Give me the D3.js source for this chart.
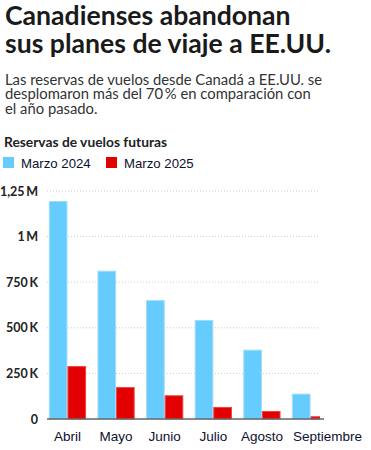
<!DOCTYPE html>
<html>
<head>
<meta charset="utf-8">
<script src="https://cdn.jsdelivr.net/npm/d3@7"></script>
<style>
  body { margin: 0; background: #fff; }
</style>
</head>
<body>
<div id="chart"></div>
<script>
// data
var months = ["Abril", "Mayo", "Junio", "Julio", "Agosto", "Septiembre"];
var series = ["Marzo 2024", "Marzo 2025"];
var marzo2024 = [1195000, 813000, 652000, 543000, 380000, 139000];
var marzo2025 = [290000, 175000, 130000, 66000, 44000, 15000];
var yTicks = [0, 250000, 500000, 750000, 1000000, 1250000];
var yTickLabels = ["0", "250\u2009K", "500\u2009K", "750\u2009K", "1\u2009M", "1,25\u2009M"];

var colors = ["#66ccfe", "#e30000"];
var edge = ["#9adcff", "#f04040"];
var width = 371, height = 450;

var svg = d3.select("#chart")
  .append("svg")
  .attr("width", width)
  .attr("height", height);

// title + subtitle
var title = svg.append("g")
  .attr("font-family", "Lato")
  .attr("font-weight", "bold")
  .attr("font-size", 26.6)
  .attr("fill", "#1a1a1a");
title.append("text").attr("x", 5).attr("y", 25).text("Canadienses abandonan");
title.append("text").attr("x", 5).attr("y", 53).text("sus planes de viaje a EE.UU.");

var sub = svg.append("g")
  .attr("font-family", "Lato")
  .attr("font-size", 14.8)
  .attr("fill", "#333");
["Las reservas de vuelos desde Canadá a EE.UU. se",
 "desplomaron más del 70\u2009% en comparación con",
 "el año pasado."].forEach(function (t, i) {
  sub.append("text").attr("x", 5).attr("y", 85 + i * 14.3).text(t);
});

// legend
svg.append("text")
  .attr("x", 4).attr("y", 147)
  .attr("font-family", "Lato")
  .attr("font-weight", "bold")
  .attr("font-size", 13.8)
  .attr("fill", "#222")
  .text("Reservas de vuelos futuras");

var legendX = [3, 106];
var legend = svg.selectAll("g.legend")
  .data(series)
  .join("g")
  .attr("class", "legend")
  .attr("transform", function (d, i) { return "translate(" + legendX[i] + ",157)"; });
legend.append("rect")
  .attr("width", 11).attr("height", 11)
  .attr("fill", function (d, i) { return colors[i]; });
legend.append("text")
  .attr("x", 18).attr("y", 10.5)
  .attr("font-family", "Liberation Sans")
  .attr("font-size", 13.2)
  .attr("fill", "#0d1030")
  .text(function (d) { return d; });

// scales
var x = d3.scaleBand()
  .domain(months)
  .range([44, 334])
  .paddingInner(0.235)
  .paddingOuter(0.1);
var xs = d3.scaleBand()
  .domain(series)
  .range([0, x.bandwidth()]);
var y = d3.scaleLinear()
  .domain([0, 1250000])
  .range([419, 191]);

// gridlines
svg.append("g")
  .selectAll("line")
  .data(yTicks.slice(1))
  .join("line")
  .attr("x1", 47).attr("x2", 319)
  .attr("y1", function (d) { return y(d); })
  .attr("y2", function (d) { return y(d); })
  .attr("stroke", "#ccc")
  .attr("stroke-width", 1)
  .attr("stroke-dasharray", "1,2");

// y labels
svg.append("g")
  .attr("font-family", "Lato")
  .attr("font-weight", "bold")
  .attr("font-size", 12.5)
  .attr("fill", "#222")
  .attr("text-anchor", "end")
  .selectAll("text")
  .data(yTicks)
  .join("text")
  .attr("x", 38)
  .attr("y", function (d) { return y(d) + 4.5; })
  .text(function (d, i) { return yTickLabels[i]; });

// bars, clipped at the right edge of the plot like the original
svg.append("clipPath").attr("id", "plot")
  .append("rect").attr("x", 40).attr("y", 150).attr("width", 280).attr("height", 280);

var rows = months.map(function (m, i) {
  return { month: m, values: [marzo2024[i], marzo2025[i]] };
});

svg.append("g")
  .attr("clip-path", "url(#plot)")
  .selectAll("g")
  .data(rows)
  .join("g")
  .attr("transform", function (d) { return "translate(" + x(d.month) + ",0)"; })
  .selectAll("rect")
  .data(function (d) { return d.values.map(function (v, i) { return { s: series[i], v: v, i: i }; }); })
  .join("rect")
  .attr("x", function (d) { return xs(d.s) + 0.5; })
  .attr("width", xs.bandwidth() - 1)
  .attr("y", function (d) { return y(d.v) + 0.5; })
  .attr("height", function (d) { return y(0) - y(d.v) - 0.5; })
  .attr("fill", function (d) { return colors[d.i]; })
  .attr("stroke", function (d) { return edge[d.i]; })
  .attr("stroke-width", 1);

// baseline
svg.append("line")
  .attr("x1", 47).attr("x2", 324)
  .attr("y1", y(0)).attr("y2", y(0))
  .attr("stroke", "#666")
  .attr("stroke-width", 1.5);

// x labels, pushed right when they would collide with the previous one
var prevRight = -Infinity;
svg.append("g")
  .attr("font-family", "Liberation Sans")
  .attr("font-size", 13.5)
  .attr("fill", "#0d1030")
  .attr("text-anchor", "middle")
  .selectAll("text")
  .data(months)
  .join("text")
  .attr("y", 441)
  .text(function (d) { return d; })
  .attr("x", function (d) {
    var w = this.getComputedTextLength();
    var cx = Math.max(x(d) + x.bandwidth() / 2, prevRight + 10 + w / 2);
    prevRight = cx + w / 2;
    return cx;
  });
</script>
</body>
</html>
